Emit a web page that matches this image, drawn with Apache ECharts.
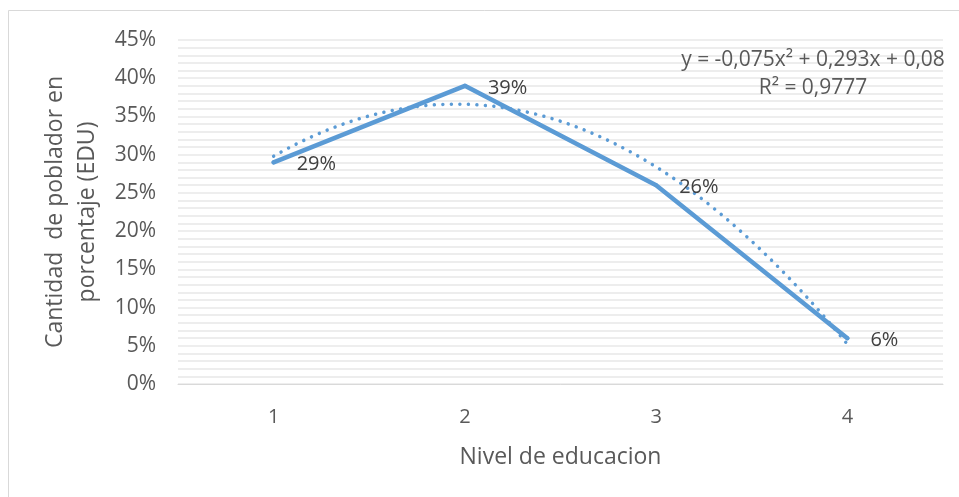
<!DOCTYPE html>
<html>
<head>
<meta charset="utf-8">
<script src="https://cdn.jsdelivr.net/npm/echarts@6/dist/echarts.min.js"></script>
<style>
  html, body { margin: 0; padding: 0; background: #fff; }
  #chart { width: 959px; height: 497px; }
</style>
</head>
<body>
<div id="chart"></div>
<script>
// Education levels and share of population (fractions)
const categories = ['1', '2', '3', '4'];
const values = [0.29, 0.39, 0.26, 0.06];
const yTicks = [0, 0.05, 0.10, 0.15, 0.20, 0.25, 0.30, 0.35, 0.40, 0.45];

const FONT = '"Open Sans", "Noto Sans", sans-serif';
const TXT = '#595959';
const BLUE = '#5b9bd5';

// Least-squares polynomial trend (order 2) over x = 1..n
function polyFit2(ys) {
  const xs = ys.map((_, i) => i + 1);
  const n = xs.length;
  let S = [0, 0, 0, 0, 0], T = [0, 0, 0];
  xs.forEach((x, i) => {
    for (let k = 0; k <= 4; k++) S[k] += Math.pow(x, k);
    for (let k = 0; k <= 2; k++) T[k] += Math.pow(x, k) * ys[i];
  });
  // Normal equations for c0 + c1 x + c2 x^2
  const A = [[S[0], S[1], S[2], T[0]], [S[1], S[2], S[3], T[1]], [S[2], S[3], S[4], T[2]]];
  for (let i = 0; i < 3; i++) {
    for (let j = i + 1; j < 3; j++) {
      const f = A[j][i] / A[i][i];
      for (let k = i; k < 4; k++) A[j][k] -= f * A[i][k];
    }
  }
  const c = [0, 0, 0];
  for (let i = 2; i >= 0; i--) {
    let s = A[i][3];
    for (let k = i + 1; k < 3; k++) s -= A[i][k] * c[k];
    c[i] = s / A[i][i];
  }
  const mean = ys.reduce((a, b) => a + b, 0) / n;
  let ssTot = 0, ssRes = 0;
  xs.forEach((x, i) => {
    const f = c[0] + c[1] * x + c[2] * x * x;
    ssRes += (ys[i] - f) ** 2;
    ssTot += (ys[i] - mean) ** 2;
  });
  return { c, r2: 1 - ssRes / ssTot };
}

const fit = polyFit2(values);
const trend = [];
for (let x = 1; x <= values.length + 1e-9; x += 0.05) {
  trend.push([x, fit.c[0] + fit.c[1] * x + fit.c[2] * x * x]);
}

function num(v, d) {
  let s = Math.abs(v).toFixed(d).replace(/0+$/, '').replace(/\.$/, '');
  return s.replace('.', ',');
}
function signed(v, d) { return (v < 0 ? '- ' : '+ ') + num(v, d); }
const eqText = 'y = ' + (fit.c[2] < 0 ? '-' : '') + num(fit.c[2], 3) + 'x\u00B2 ' +
  signed(fit.c[1], 3) + 'x ' + signed(fit.c[0], 3);
const r2Text = 'R\u00B2 = ' + num(fit.r2, 4);

const chart = echarts.init(document.getElementById('chart'), null, { renderer: 'canvas' });

chart.setOption({
  animation: false,
  backgroundColor: '#fff',
  textStyle: { fontFamily: FONT },
  grid: { left: 178, right: 16, top: 40, bottom: 113, containLabel: false },
  xAxis: [
    {
      type: 'category',
      data: categories,
      boundaryGap: true,
      axisLine: { show: true, lineStyle: { color: '#d9d9d9', width: 1 } },
      axisTick: { show: false },
      axisLabel: { color: TXT, fontSize: 20, fontFamily: FONT, margin: 23 },
      name: 'Nivel de educacion',
      nameLocation: 'middle',
      nameGap: 62,
      nameTextStyle: { color: TXT, fontSize: 23, fontFamily: FONT }
    },
    {
      type: 'value',
      min: 0.5,
      max: categories.length + 0.5,
      show: false
    }
  ],
  yAxis: {
    type: 'value',
    min: 0,
    max: 0.45,
    interval: 0.05,
    axisLine: { show: false },
    axisTick: { show: false },
    axisLabel: {
      color: TXT, fontSize: 21, fontFamily: FONT, margin: 22,
      formatter: v => Math.round(v * 100) + '%'
    },
    splitLine: { show: true, lineStyle: { color: '#e8e8e8', width: 1.5 } },
    minorTick: { show: false, splitNumber: 5 },
    minorSplitLine: { show: true, lineStyle: { color: '#e8e8e8', width: 1.5 } },
    name: 'Cantidad  de poblador en\nporcentaje (EDU)',
    nameLocation: 'middle',
    nameGap: 64,
    nameTextStyle: { color: TXT, fontSize: 23, fontFamily: FONT, lineHeight: 32, align: 'center' }
  },
  graphic: [
    {
      type: 'rect',
      shape: { x: 8.5, y: 10.5, width: 1000, height: 1000 },
      style: { fill: 'none', stroke: '#d9d9d9', lineWidth: 1 },
      z: -1
    },
    {
      type: 'text',
      x: 813, y: 60,
      z: 100,
      style: {
        text: eqText, fill: TXT, font: '21px ' + FONT,
        textAlign: 'center', textVerticalAlign: 'middle'
      }
    },
    {
      type: 'text',
      x: 813, y: 88,
      z: 100,
      style: {
        text: r2Text, fill: TXT, font: '21px ' + FONT,
        textAlign: 'center', textVerticalAlign: 'middle'
      }
    }
  ],
  series: [
    {
      name: 'EDU',
      type: 'line',
      xAxisIndex: 0,
      data: values,
      showSymbol: true,
      symbol: 'circle',
      symbolSize: 4,
      itemStyle: { color: BLUE },
      lineStyle: { color: BLUE, width: 4.5, cap: 'round', join: 'round' },
      label: {
        show: true,
        position: 'right',
        distance: 21,
        offset: [0, 2],
        color: '#404040',
        fontSize: 20,
        fontFamily: FONT,
        formatter: p => Math.round(p.value * 100) + '%'
      },
      z: 3
    },
    {
      name: 'Trend',
      type: 'line',
      xAxisIndex: 1,
      data: trend,
      showSymbol: false,
      symbol: 'none',
      smooth: false,
      lineStyle: { color: BLUE, width: 3.5, type: [0.01, 8.5], cap: 'round' },
      z: 2,
      silent: true
    }
  ]
});
</script>
</body>
</html>
